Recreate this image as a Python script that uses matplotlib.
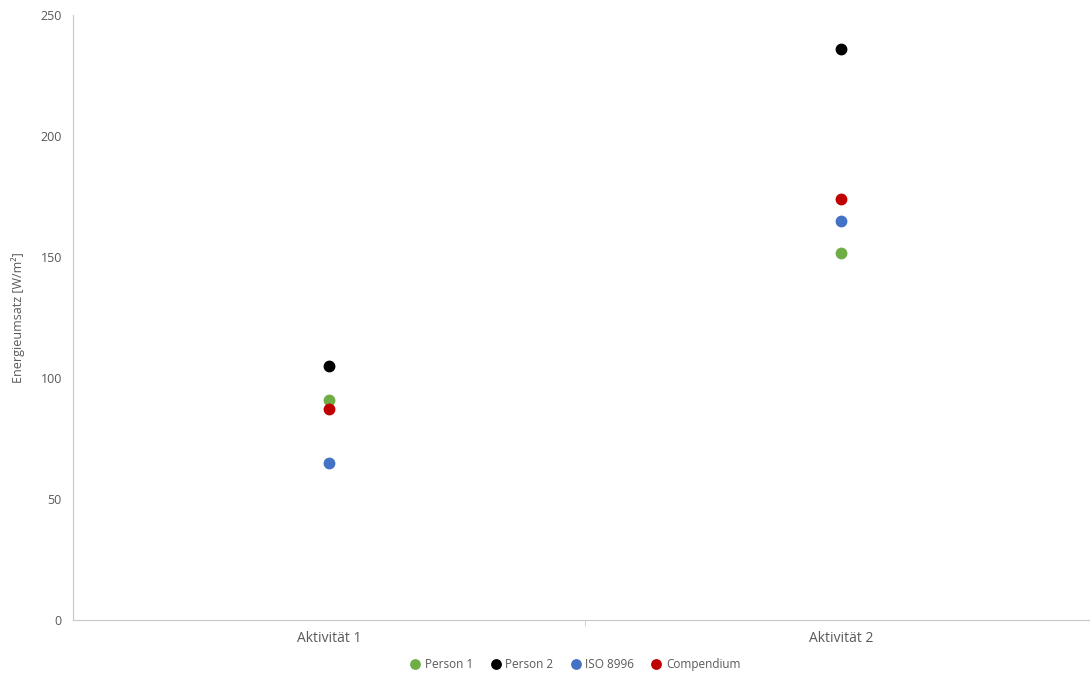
import matplotlib.pyplot as plt

categories = ["Aktivität 1", "Aktivität 2"]
series_names = ["Person 1", "Person 2", "ISO 8996", "Compendium"]
person1 = [91, 151.5]
person2 = [105, 236]
iso8996 = [65, 165]
compendium = [87, 174]
colors = ["#70AD47", "#000000", "#4472C4", "#C00000"]

plt.rcParams['font.family'] = ['Open Sans', 'DejaVu Sans']

fig = plt.figure(figsize=(10.9, 6.73), dpi=100)
ax = fig.add_axes([0.067, 0.079, 0.94, 0.899])

x = [1, 2]
for name, vals, c in zip(series_names, [person1, person2, iso8996, compendium], colors):
    ax.plot(x, vals, 'o', color=c, markersize=7.5, label=name, linestyle='none')

ax.set_xlim(0.5, 2.5)
ax.set_ylim(0, 250)
ax.set_yticks([0, 50, 100, 150, 200, 250])
ax.set_xticks(x)
ax.set_xticklabels(categories)
ax.set_xticks([1.5], minor=True)
ax.tick_params(axis='x', which='major', length=0, labelsize=10, colors='#595959', pad=8)
ax.tick_params(axis='x', which='minor', length=4, color='#C8C8C8')
ax.tick_params(axis='y', length=0, labelsize=9, colors='#595959', pad=8)

for s in ['top', 'right']:
    ax.spines[s].set_visible(False)
for s in ['left', 'bottom']:
    ax.spines[s].set_color('#C8C8C8')

ax.set_ylabel("Energieumsatz [W/m²]", fontsize=9, color='#595959', labelpad=11)

# legend sits under the category labels, a touch left of centre like the original
ax.legend(loc='upper center', bbox_to_anchor=(0.487, -0.045), ncol=4, frameon=False,
          fontsize=8.5, handletextpad=-0.2, columnspacing=0.9, markerscale=0.9,
          labelcolor='#595959')

fig.savefig("out.png", dpi=100)
